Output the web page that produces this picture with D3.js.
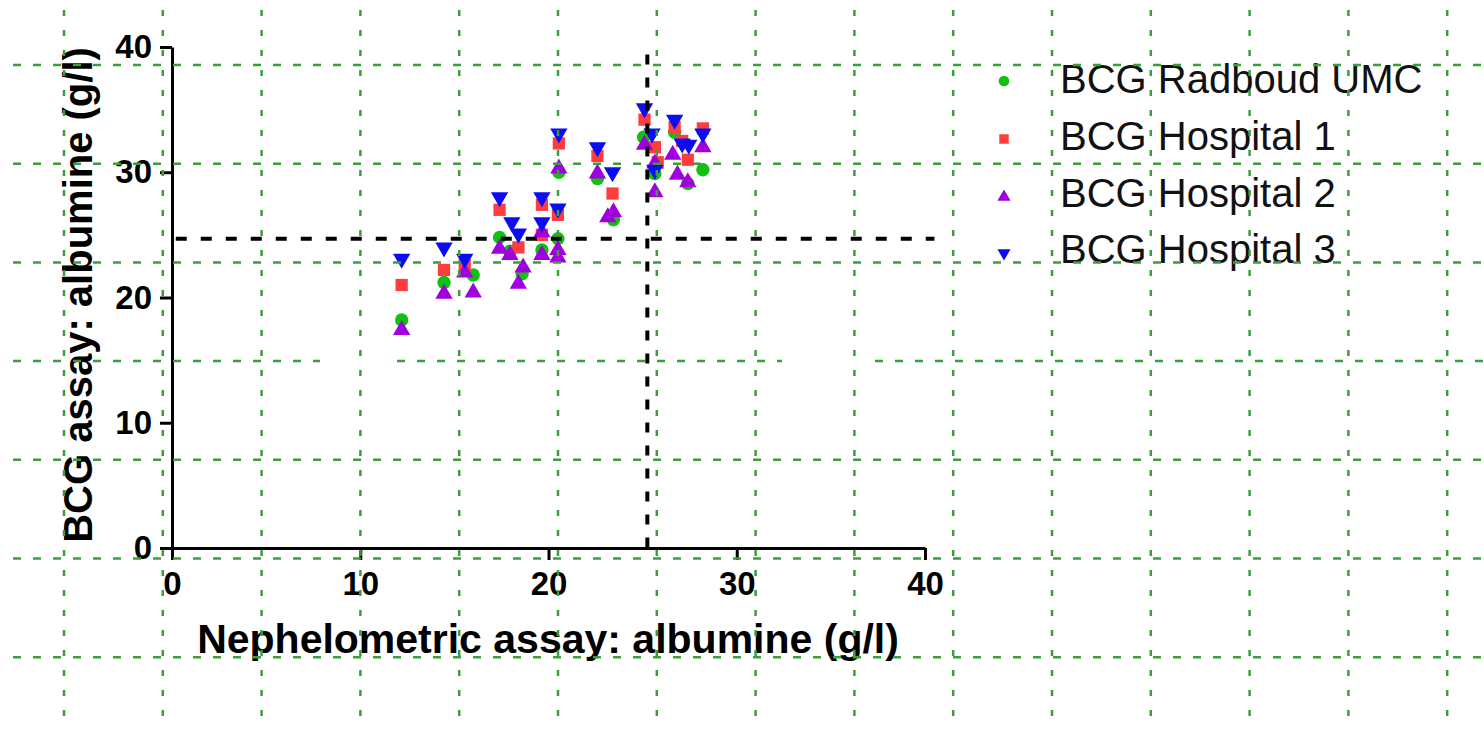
<!DOCTYPE html>
<html>
<head>
<meta charset="utf-8">
<script src="https://cdn.jsdelivr.net/npm/d3@7"></script>
<style>
  body { margin: 0; background: #fff; }
  svg { display: block; font-family: "Liberation Sans", Arial, sans-serif; }
</style>
</head>
<body>
<div class="chartDiv"></div>
<script>
// series names + colours (legend order)
var seriesNames = ["BCG Radboud UMC", "BCG Hospital 1", "BCG Hospital 2", "BCG Hospital 3"];
var seriesColors = ["#12c012", "#ff3d3d", "#a000de", "#0c0cf2"];
var tickValues = [0, 10, 20, 30, 40];

// nephelometric (x) and BCG (y) albumine, g/l
var radboudX = [12.2, 14.45, 16.0, 17.4, 17.95, 18.6, 19.65, 20.5, 20.55, 22.6, 23.45, 25.05, 25.65, 26.7, 27.4, 28.2];
var radboudY = [18.2, 21.2, 21.8, 24.8, 23.7, 21.9, 23.8, 24.7, 30.0, 29.5, 26.2, 32.8, 29.9, 33.2, 29.1, 30.2];

var hosp1X = [12.2, 14.45, 15.55, 17.4, 18.4, 19.65, 19.65, 20.5, 20.55, 22.6, 23.4, 25.1, 25.65, 25.8, 26.7, 27.1, 27.4, 28.2];
var hosp1Y = [21.0, 22.2, 22.6, 27.0, 24.0, 27.4, 25.0, 26.6, 32.3, 31.3, 28.3, 34.2, 32.0, 30.8, 33.6, 32.5, 31.0, 33.5];

var hosp2X = [12.2, 14.45, 15.55, 16.0, 17.4, 17.95, 18.4, 18.65, 19.65, 19.65, 20.5, 20.5, 20.55, 22.6, 23.15, 23.45, 25.1, 25.65, 25.65, 26.6, 26.85, 27.4, 28.2];
var hosp2Y = [17.4, 20.3, 22.0, 20.4, 23.9, 23.4, 21.1, 22.4, 25.2, 23.4, 23.8, 23.2, 30.3, 29.9, 26.4, 26.8, 32.2, 30.7, 28.4, 31.4, 29.8, 29.2, 32.0];

var hosp3X = [12.2, 14.45, 15.55, 17.4, 18.05, 18.4, 19.65, 19.65, 20.5, 20.55, 22.6, 23.4, 25.1, 25.5, 25.65, 26.7, 27.1, 27.45, 28.2];
var hosp3Y = [23.1, 24.0, 23.1, 28.0, 26.0, 25.1, 28.0, 26.0, 27.1, 33.1, 32.0, 30.0, 35.1, 33.1, 30.2, 34.2, 32.3, 32.2, 33.1];

// dashed reference cut-offs
var refNeph = 25.25;
var refBcg = 24.7;

var W = 1484, H = 729;
var svg = d3.select('div.chartDiv').append('svg').attr('width', W).attr('height', H);

var xScale = d3.scaleLinear().domain([0, 40]).range([172, 925]);
var yScale = d3.scaleLinear().domain([0, 40]).range([548, 47]);

var symbols = [d3.symbolCircle, d3.symbolSquare, d3.symbolTriangle, d3.symbolTriangle];
var sizes = [140, 150, 130, 130];

var series = [
  {x: radboudX, y: radboudY},
  {x: hosp1X, y: hosp1Y},
  {x: hosp2X, y: hosp2Y},
  {x: hosp3X, y: hosp3Y}
];

// points, one group per series (later series drawn on top)
series.forEach(function(s, k) {
  var pts = s.x.map(function(v, i) { return [v, s.y[i]]; });
  svg.append('g').selectAll('path').data(pts).enter().append('path')
    .attr('d', d3.symbol().type(symbols[k]).size(sizes[k]))
    .attr('transform', function(d) {
      return 'translate(' + xScale(d[0]) + ',' + yScale(d[1]) + ')' + (k == 3 ? ' rotate(180)' : '');
    })
    .attr('fill', seriesColors[k]);
});

// axes
var yAxis = d3.axisLeft(yScale).tickValues(tickValues).tickSize(12).tickSizeOuter(0).tickPadding(8);
var xAxis = d3.axisBottom(xScale).tickValues(tickValues).tickSize(12).tickSizeOuter(0).tickPadding(12);

var gy = svg.append('g').attr('transform', 'translate(' + xScale(0) + ',0)').call(yAxis);
var gx = svg.append('g').attr('transform', 'translate(0,' + yScale(0) + ')').call(xAxis);
[gx, gy].forEach(function(g) {
  g.select('.domain').attr('stroke', '#000').attr('stroke-width', 3);
  g.selectAll('.tick line').attr('stroke', '#000').attr('stroke-width', 3);
  g.selectAll('.tick text').attr('fill', '#000').style('font-size', '33px').style('font-weight', 'bold')
    .style('font-family', '"Liberation Sans", Arial, sans-serif');
});

// axis titles
svg.append('text').attr('x', 548).attr('y', 653).attr('text-anchor', 'middle')
  .style('font-size', '41px').style('font-weight', 'bold').text('Nephelometric assay: albumine (g/l)');
svg.append('text').attr('transform', 'translate(92,295) rotate(-90)').attr('text-anchor', 'middle')
  .style('font-size', '40px').style('font-weight', 'bold').text('BCG assay: albumine (g/l)');

// black dashed cut-off lines
svg.append('line')
  .attr('x1', xScale(0.2)).attr('x2', xScale(40.5))
  .attr('y1', yScale(refBcg)).attr('y2', yScale(refBcg))
  .attr('stroke', '#000').attr('stroke-width', 4).attr('stroke-dasharray', '11,14');
svg.append('line')
  .attr('x1', xScale(refNeph)).attr('x2', xScale(refNeph))
  .attr('y1', yScale(39.4)).attr('y2', yScale(0))
  .attr('stroke', '#000').attr('stroke-width', 4).attr('stroke-dasharray', '10,13');

// legend
var legend = svg.append('g');
seriesNames.forEach(function(name, k) {
  var cy = [81, 139, 197, 253][k];
  legend.append('path')
    .attr('d', d3.symbol().type(symbols[k]).size(k < 2 ? 90 : 75))
    .attr('transform', 'translate(1004,' + cy + ')' + (k == 3 ? ' rotate(180)' : ''))
    .attr('fill', seriesColors[k]);
  legend.append('text').attr('x', 1060).attr('y', [93, 150, 207, 263][k])
    .style('font-size', '40px').attr('fill', '#111').text(name);
});

// green dotted page grid laid over everything
var grid = svg.append('g').attr('stroke', '#3a9e3a').attr('stroke-width', 2.5);
d3.range(15).forEach(function(i) {
  var gxp = 64 + i * 98.8;
  grid.append('line').attr('x1', gxp).attr('x2', gxp).attr('y1', 10).attr('y2', H)
    .attr('stroke-dasharray', '6,14');
});
d3.range(7).forEach(function(i) {
  var gyp = 65 + i * 98.7;
  var segs = (i == 3) ? [[13, 320], [397, 782], [875, W]] : [[13, W]];
  segs.forEach(function(s) {
    grid.append('line').attr('x1', s[0]).attr('x2', s[1]).attr('y1', gyp).attr('y2', gyp)
      .attr('stroke-dasharray', '8,12');
  });
});
</script>
</body>
</html>
